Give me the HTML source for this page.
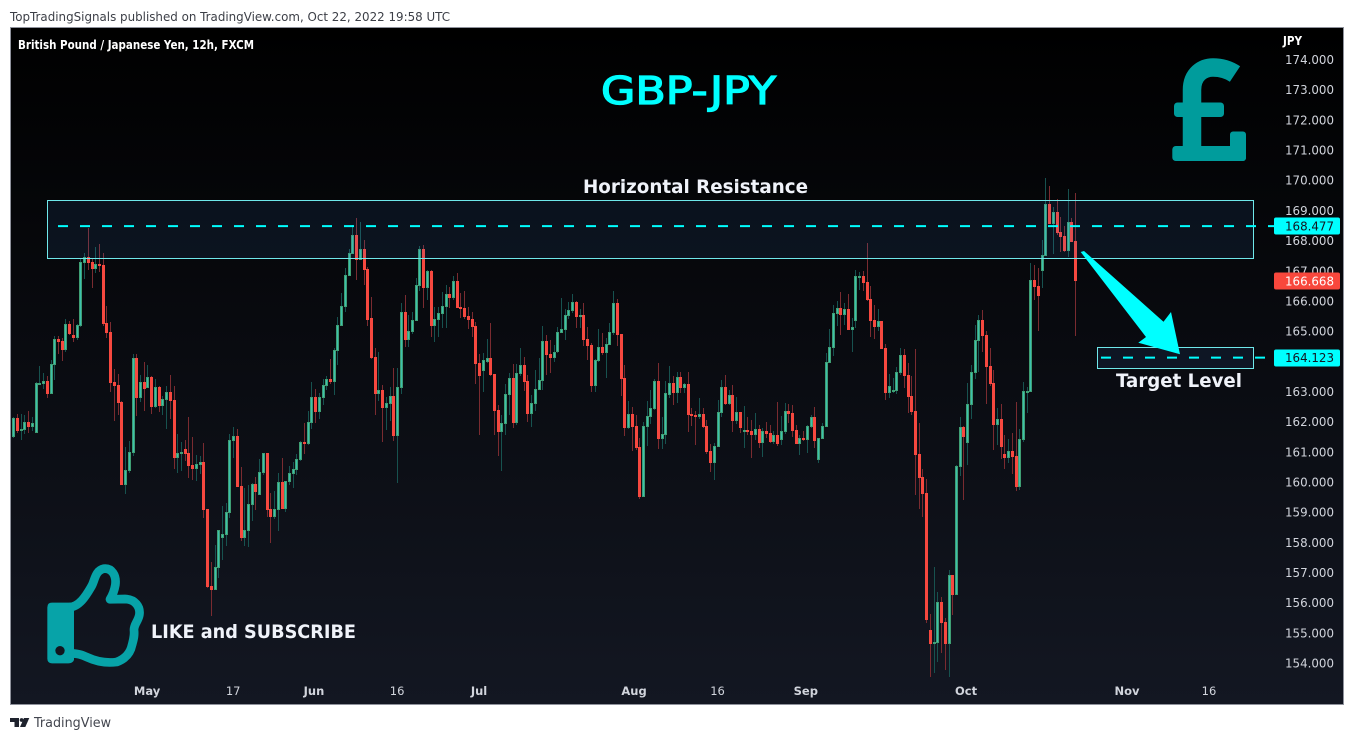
<!DOCTYPE html>
<html lang="en">
<head>
<meta charset="utf-8">
<title>GBP-JPY chart</title>
<style>
html,body{margin:0;padding:0;background:#fff;width:1354px;height:740px;overflow:hidden}
svg{display:block;font-family:"DejaVu Sans","Liberation Sans",sans-serif}
</style>
</head>
<body>
<svg id="chart" xmlns="http://www.w3.org/2000/svg" width="1354" height="740" viewBox="0 0 1354 740">
  <defs>
    <linearGradient id="bg" x1="0" y1="0" x2="0" y2="1">
      <stop offset="0" stop-color="#000000"/>
      <stop offset="1" stop-color="#131722"/>
    </linearGradient>
  </defs>
  <rect x="0" y="0" width="1354" height="740" fill="#ffffff"/>
  <text x="10" y="21" font-size="12" fill="#3c3f47" textLength="440" lengthAdjust="spacingAndGlyphs">TopTradingSignals published on TradingView.com, Oct 22, 2022 19:58 UTC</text>
  <rect x="10.5" y="27.5" width="1333" height="677" fill="url(#bg)" stroke="#8f929c" stroke-width="1"/>
  <g id="candles" shape-rendering="crispEdges"></g>
  <g id="annotations"></g>
  <g id="y-axis"></g>
  <g id="x-axis"></g>
  <text x="18" y="49" font-size="12" font-weight="bold" fill="#ffffff" textLength="236" lengthAdjust="spacingAndGlyphs">British Pound / Japanese Yen, 12h, FXCM</text>
  <text x="1283" y="45" font-size="12" font-weight="bold" fill="#ffffff" textLength="19" lengthAdjust="spacingAndGlyphs">JPY</text>
  <text x="601" y="104" font-size="38" fill="#00ffff" stroke="#00ffff" stroke-width="1.3" textLength="175" lengthAdjust="spacingAndGlyphs">GBP-JPY</text>
  <text x="583" y="193" font-size="19" font-weight="bold" fill="#f0f3fa" textLength="225" lengthAdjust="spacingAndGlyphs">Horizontal Resistance</text>
  <text x="1116" y="387" font-size="19" font-weight="bold" fill="#f0f3fa" textLength="126" lengthAdjust="spacingAndGlyphs">Target Level</text>
  <text x="151" y="638" font-size="19" font-weight="bold" fill="#f0f3fa" textLength="205" lengthAdjust="spacingAndGlyphs">LIKE and SUBSCRIBE</text>

  <g fill="#009c9c">
    <path d="M1192,150 L1192,90 C1192,74 1203,67.5 1213,67.5 C1222,67.5 1229,70 1235,74" fill="none" stroke="#009c9c" stroke-width="18.5" stroke-linecap="butt" stroke-linejoin="round"/>
    <rect x="1174" y="102.5" width="50" height="14.5" rx="3.5"/>
    <rect x="1172.3" y="146" width="73.7" height="15" rx="3.5"/>
    <rect x="1230" y="131.5" width="16" height="29.5" rx="3"/>
  </g>

  <g transform="translate(0,550) scale(0.33333)">
    <path d="M156,158 H222 V330 Q218,340 205,340 H156 Q142,340 142,326 V172 Q142,158 156,158 Z" fill="#07a3a8"/>
    <circle cx="180" cy="302" r="14" fill="#12151e"/>
    <path d="M205,172 C240,172 262,130 275,108 C285,90 285,62 312,56 C335,54 350,75 346,105 C342,128 335,140 330,148 L375,147 C405,148 422,170 418,195 C414,215 402,222 402,240 C404,258 400,270 396,285 C392,305 380,325 350,336 C320,340 290,335 262,322 C245,314 232,310 205,310" fill="none" stroke="#07a3a8" stroke-width="26" stroke-linejoin="round"/>
  </g>

  <g fill="#1e222d">
    <path d="M10,718 H19 V727 H14.5 V722 H10 Z"/>
    <circle cx="21.6" cy="720" r="1.9"/>
    <path d="M24,718 H29.3 L25.3,727 H20 Z"/>
    <text x="34" y="727" font-size="13" fill="#43464f" textLength="77" lengthAdjust="spacingAndGlyphs">TradingView</text>
  </g>
</svg>

<script>
const opens = [
161.50,162.12,161.69,161.72,161.99,161.82,161.64,163.25,163.25,163.35,
162.92,163.88,164.74,164.67,164.37,165.24,164.87,164.77,165.17,167.26,
167.46,167.29,167.06,167.22,167.19,165.27,164.97,163.31,163.22,162.65,
159.90,160.37,160.97,164.11,162.78,163.31,163.12,163.48,162.49,163.15,
162.52,162.72,162.98,162.72,160.81,160.93,161.09,160.96,160.56,160.43,
160.56,160.66,159.11,156.55,156.42,157.15,158.15,158.25,158.97,161.36,
161.52,159.87,158.15,158.38,159.24,159.93,159.57,160.30,160.96,159.11,
158.84,159.07,160.00,159.11,160.00,160.27,160.40,160.73,161.33,161.26,
161.96,162.82,162.32,162.78,163.18,163.41,163.31,164.34,165.17,165.80,
166.83,167.56,168.19,167.36,167.72,167.06,165.43,164.14,162.92,163.05,
162.45,162.59,162.85,161.53,163.12,165.63,164.71,164.97,165.34,166.50,
167.72,166.43,166.99,165.17,165.37,165.57,165.80,166.23,166.10,166.66,
165.80,165.77,165.50,165.40,165.17,163.94,163.68,163.99,164.11,163.58,
162.39,161.66,161.92,162.88,163.45,161.96,163.58,163.88,163.35,162.25,
162.59,163.05,163.35,164.67,164.24,164.11,164.31,164.94,165.04,165.50,
165.67,165.96,165.47,165.53,164.74,164.54,163.18,164.01,164.47,164.27,
164.54,164.94,165.93,164.90,163.45,161.79,162.25,161.86,161.16,159.50,
161.82,162.15,162.42,163.35,161.43,161.56,162.88,163.28,162.95,163.48,
163.12,163.25,162.25,162.22,162.15,162.25,161.86,161.03,160.63,161.16,
162.29,163.15,162.58,162.88,162.02,162.32,161.66,161.72,161.69,161.56,
161.76,161.29,161.69,161.62,161.33,161.56,161.39,161.66,162.35,162.29,
161.72,161.26,161.46,161.39,161.82,162.15,160.73,161.42,161.82,163.94,
164.44,165.57,165.77,165.53,165.73,165.04,165.33,166.80,166.83,166.63,
166.06,165.37,165.14,165.33,164.44,162.95,162.98,163.01,163.61,164.21,
163.55,162.85,162.35,160.93,160.17,159.64,155.10,154.63,154.67,156.02,
155.36,154.63,156.92,156.26,160.50,161.82,161.29,162.55,163.61,164.67,
165.37,164.87,163.84,163.28,161.89,162.09,160.93,160.80,161.03,160.86,
159.84,161.39,162.98,162.98,166.69,166.50,166.99,167.49,169.21,168.55,
168.95,168.28,168.15,167.65,168.62,167.99];

const highs = [
162.17,162.25,162.25,162.22,162.35,162.16,163.31,163.85,163.61,163.51,
164.04,164.84,164.84,164.77,165.40,165.34,165.40,165.24,167.38,167.59,
168.42,167.38,167.79,167.89,167.59,165.83,165.30,163.75,163.58,162.68,
161.16,161.36,164.24,164.24,163.55,163.98,163.88,163.51,163.41,163.18,
162.85,163.18,163.55,163.18,161.59,161.33,161.39,162.15,161.49,160.90,
160.86,161.29,159.11,157.35,157.91,158.41,159.21,159.31,161.59,161.82,
161.76,160.50,159.80,159.90,159.97,160.17,160.76,160.96,160.96,159.64,
159.70,160.30,160.80,160.03,160.53,160.66,160.93,161.36,161.96,162.35,
163.31,163.08,162.95,163.41,163.51,164.08,164.44,165.47,166.26,167.09,
167.72,168.52,168.75,168.62,168.02,167.12,166.13,164.44,164.31,163.21,
162.82,163.15,163.78,163.78,165.93,166.20,165.53,165.63,166.76,167.82,
167.85,167.01,167.03,165.80,165.80,166.30,166.53,166.46,166.83,166.93,
166.26,166.33,165.80,165.63,165.30,164.24,164.27,164.74,165.27,163.58,
162.55,162.22,163.25,163.61,163.91,163.91,164.44,164.14,163.55,162.88,
163.71,164.11,165.17,164.87,164.71,164.54,165.14,166.10,165.73,165.96,
166.23,166.00,165.73,165.93,165.14,164.60,164.08,165.07,164.94,164.77,
165.27,166.33,166.06,164.90,163.88,162.68,162.48,162.22,161.46,161.99,
162.68,163.05,163.41,163.94,162.15,163.35,163.84,163.51,163.65,163.65,
163.28,163.65,162.45,162.35,162.78,162.45,162.05,161.26,161.29,162.72,
163.38,163.55,163.05,163.21,162.82,162.32,162.52,162.15,162.05,162.29,
161.90,161.79,161.99,161.89,161.69,162.65,162.19,162.62,162.58,162.55,
161.89,161.56,161.69,161.90,162.22,162.49,161.46,161.96,164.28,165.07,
165.87,166.00,166.30,165.93,166.23,165.43,167.02,166.96,167.00,167.92,
166.49,165.87,165.73,165.33,164.57,163.58,163.45,163.81,164.44,164.41,
163.94,163.51,164.41,161.96,160.43,160.10,155.63,157.18,156.36,156.19,
155.49,157.09,156.92,160.56,162.15,161.85,163.28,163.88,165.20,165.53,
165.70,165.00,164.44,163.71,162.45,162.59,161.56,161.43,161.62,162.65,
161.76,163.31,163.15,167.26,167.19,167.09,168.02,170.07,169.81,169.11,
169.38,168.78,168.48,169.71,168.75,169.58];

const lows = [
161.45,161.61,161.39,161.59,161.62,161.69,161.64,163.22,163.08,162.78,
162.92,163.38,164.24,164.01,164.31,164.87,164.64,164.71,165.14,166.73,
167.03,166.43,166.93,166.96,165.17,164.77,162.98,162.02,162.22,159.90,
159.60,160.31,160.86,162.19,162.65,162.35,163.10,162.25,162.45,162.32,
162.22,161.76,162.09,160.43,160.31,160.37,160.70,160.13,160.07,160.03,
160.27,158.81,156.50,155.56,156.42,156.82,157.42,157.88,158.81,160.80,
159.84,158.05,157.88,157.85,158.71,159.07,159.57,160.22,158.84,157.98,
158.77,158.38,159.11,159.01,159.90,159.80,160.23,160.70,160.93,161.23,
161.75,161.96,162.09,162.55,163.05,163.25,162.88,163.88,165.17,165.63,
166.83,167.56,166.69,167.36,166.53,165.17,164.08,162.22,162.68,161.33,
161.72,162.02,161.36,159.97,162.92,164.47,164.47,164.90,165.34,166.33,
165.77,166.03,164.80,164.64,164.80,165.10,165.10,165.77,166.03,165.77,
165.43,165.40,165.07,164.80,163.25,161.56,162.98,163.94,163.51,161.56,
160.86,160.37,161.56,162.22,161.79,161.89,163.50,163.02,161.99,161.82,
162.35,163.05,163.05,163.55,163.61,163.98,164.28,164.94,164.71,165.40,
165.60,165.10,165.10,164.51,164.04,162.98,162.98,163.98,164.21,163.45,
164.54,164.87,164.51,162.85,161.53,161.75,161.03,161.05,159.44,159.50,
161.19,161.92,162.40,161.09,161.09,161.26,162.78,162.55,162.62,162.95,
162.95,161.66,161.86,161.23,162.08,161.79,160.93,160.33,160.07,161.16,
162.15,162.55,162.55,161.66,161.92,161.62,161.13,161.55,160.80,161.40,
161.13,160.83,161.45,161.29,161.26,161.19,161.23,161.59,161.96,161.49,
161.26,160.90,161.35,160.96,161.80,161.13,160.63,161.42,161.82,163.94,
164.18,165.17,164.87,165.20,165.04,164.31,165.10,166.36,166.33,166.00,
164.80,164.74,165.00,164.41,162.72,162.78,162.95,162.92,163.55,163.12,
162.29,162.22,159.57,159.10,158.84,155.33,153.54,153.67,154.04,154.33,
153.77,153.54,155.59,156.26,160.20,159.40,160.56,162.09,163.41,163.65,
164.31,162.59,163.18,161.06,161.23,160.76,160.43,160.63,160.27,159.70,
159.74,161.33,162.29,162.98,166.03,165.00,166.43,167.49,168.55,167.56,
168.20,167.62,167.62,167.46,167.95,164.84];

const closes = [
162.12,161.69,161.76,161.99,161.82,161.96,163.28,163.28,163.35,162.92,
163.91,164.74,164.64,164.37,165.24,164.91,164.77,165.20,167.29,167.46,
167.26,167.06,167.22,167.16,165.24,164.94,163.28,163.18,162.62,159.90,
160.40,160.99,164.11,162.78,163.31,163.08,163.48,162.49,163.15,162.52,
162.75,162.98,162.68,160.81,160.96,160.99,160.93,160.53,160.43,160.60,
160.66,159.07,156.52,156.42,157.18,158.41,158.28,159.01,161.39,161.52,
159.84,158.15,158.41,159.27,159.93,159.67,160.33,160.96,159.07,158.84,
159.11,160.00,159.11,160.03,160.30,160.43,160.76,161.33,161.26,161.99,
162.82,162.32,162.82,163.22,163.41,163.31,164.37,165.20,165.83,166.86,
167.59,168.19,167.36,167.72,167.03,165.37,164.11,162.92,163.05,162.45,
162.62,162.85,161.53,163.15,165.63,164.71,165.00,165.37,166.53,167.72,
166.43,166.99,165.17,165.40,165.60,165.83,166.23,166.10,166.66,165.77,
165.73,165.47,165.37,165.14,163.91,163.51,164.04,164.11,163.55,162.35,
161.66,161.96,162.92,163.45,161.96,163.61,163.88,163.31,162.25,162.62,
163.08,163.38,164.67,164.21,164.11,164.31,164.97,165.07,165.53,165.70,
165.96,165.47,165.53,164.71,164.51,163.18,164.04,164.47,164.27,164.57,
164.97,165.93,164.87,163.41,161.79,162.25,161.82,161.13,159.50,161.86,
162.19,162.45,163.35,161.43,161.59,162.95,163.28,162.95,163.48,163.12,
163.25,162.22,162.19,162.15,162.25,161.82,160.99,160.63,161.19,162.32,
163.15,162.58,162.88,162.02,162.32,161.79,161.72,161.66,161.56,161.76,
161.29,161.69,161.59,161.33,161.56,161.26,161.69,162.35,162.25,161.69,
161.26,161.46,161.39,161.86,162.15,161.36,161.46,161.86,163.98,164.47,
165.60,165.77,165.53,165.73,165.04,165.14,166.83,166.83,166.59,166.03,
165.33,165.14,165.33,164.41,162.95,163.18,163.05,163.64,164.21,163.51,
162.82,162.32,160.90,160.13,159.60,155.43,154.63,154.70,156.02,155.33,
154.63,156.92,156.26,160.53,161.82,161.49,162.59,163.65,164.71,165.37,
164.84,163.81,163.25,161.89,162.09,161.16,160.80,161.03,160.83,159.84,
161.43,163.02,163.02,166.69,166.46,166.17,167.52,169.21,168.55,168.95,
168.25,168.12,167.65,168.62,167.95,166.67];

const priceTicks = [174,173,172,171,170,169,168,167,166,165,164,163,162,161,160,159,158,157,156,155,154];
const timeTickLabels = ["May","17","Jun","16","Jul","Aug","16","Sep","Oct","Nov","16"];
const timeTickBars = [35.9,59,80.7,103,125,166.6,189,212.7,255.7,298.9,320.9];

const resistanceLevel = 168.477;
const targetLevel = 164.123;
const lastPrice = 166.668;
const resistanceZone = [169.36,167.44];
const targetZone = [164.47,163.77];

function xScale(bar) { return 13.3 + bar * 3.726; }
function yScale(price) { return 59.5 + (174 - price) * 30.18; }

const svgNS = 'http://www.w3.org/2000/svg';
function make(tag, attrs, parent) {
  const el = document.createElementNS(svgNS, tag);
  for (const k in attrs) el.setAttribute(k, attrs[k]);
  parent.appendChild(el);
  return el;
}

const candleLayer = document.getElementById('candles');
for (let i = 0; i < closes.length; i++) {
  const up = closes[i] >= opens[i];
  const cx = Math.round(xScale(i));
  const bodyTop = Math.round(yScale(Math.max(opens[i], closes[i])));
  const bodyBottom = Math.round(yScale(Math.min(opens[i], closes[i])));
  const bodyHeight = Math.max(2, bodyBottom - bodyTop);
  const wickTop = Math.round(yScale(highs[i]));
  const wickBottom = Math.round(yScale(lows[i]));
  const g = make('g', {}, candleLayer);
  
  
  const wick = make('rect', {x: cx, y: wickTop, width: 1, height: Math.max(1, wickBottom - wickTop), fill: up ? '#17524f' : '#7a2b30'}, g);
  
  
  const body = make('rect', {x: cx - 1, y: bodyTop, width: 3, height: bodyHeight, fill: up ? '#3f9f74' : '#f6483f'}, g);
  
  
  if (up && bodyHeight > 2) {
    const core = make('rect', {x: cx, y: bodyTop + 1, width: 1, height: bodyHeight - 2, fill: '#3cc0ae'}, g);
    
    
  }
}

const ann = document.getElementById('annotations');
const zone1 = make('rect', {x: 47.5, y: Math.round(yScale(resistanceZone[0])) + 0.5, width: 1206, height: Math.round(yScale(resistanceZone[1]) - yScale(resistanceZone[0])), fill: 'rgba(60,130,220,0.10)', stroke: '#6fe8ea', 'stroke-width': 1}, ann);


const zone2 = make('rect', {x: 1097.5, y: Math.floor(yScale(targetZone[0])) + 0.5, width: 156, height: Math.round(yScale(targetZone[1]) - yScale(targetZone[0])), fill: 'rgba(60,130,220,0.10)', stroke: '#6fe8ea', 'stroke-width': 1}, ann);


const line1 = make('line', {x1: 58, x2: 1274, y1: yScale(resistanceLevel), y2: yScale(resistanceLevel), stroke: '#00ffff', 'stroke-width': 2, 'stroke-dasharray': '10 12'}, ann);


const line2 = make('line', {x1: 1101, x2: 1274, y1: yScale(targetLevel), y2: yScale(targetLevel), stroke: '#00ffff', 'stroke-width': 2, 'stroke-dasharray': '10 12'}, ann);


const arrow = make('polygon', {points: '1080.7,252 1084,251 1163.5,321.7 1171,312 1180,354.3 1138.3,342.7 1146,337', fill: '#00ffff'}, ann);



const yAxis = document.getElementById('y-axis');
priceTicks.forEach(function (p) {
  const t = make('text', {x: 1285, y: yScale(p) + 4.5, 'font-size': 12, fill: '#d1d4dc', textLength: 49, lengthAdjust: 'spacingAndGlyphs'}, yAxis);
  
  
  t.textContent = p.toFixed(3);
});

function priceTag(price, bg, fg, name) {
  const y = yScale(price);
  const r = make('rect', {x: 1274, y: Math.round(y) - 8.5, width: 66, height: 17, rx: 2, fill: bg}, yAxis);
  
  
  const t = make('text', {x: 1285, y: y + 4.5, 'font-size': 12, fill: fg, textLength: 49, lengthAdjust: 'spacingAndGlyphs'}, yAxis);
  
  
  t.textContent = price.toFixed(3);
}
priceTag(resistanceLevel, '#00ffff', '#131722', 'resistance');
priceTag(lastPrice, '#f8473c', '#ffffff', 'last-price');
priceTag(targetLevel, '#00ffff', '#131722', 'target');

const xAxis = document.getElementById('x-axis');
timeTickLabels.forEach(function (label, i) {
  const t = make('text', {x: xScale(timeTickBars[i]), y: 695, 'font-size': 11.5, 'text-anchor': 'middle', fill: '#d1d4dc', 'font-weight': /^[A-Z]/.test(label) ? 'bold' : 'normal'}, xAxis);
  
  
  t.textContent = label;
});
</script>
</body>
</html>
